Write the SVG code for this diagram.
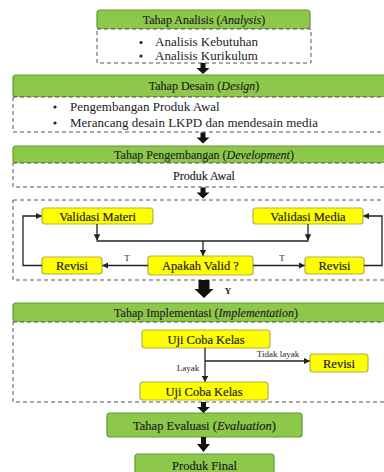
<svg xmlns="http://www.w3.org/2000/svg" width="384" height="472" viewBox="0 0 384 472">
<defs>
<style>
.g{fill:#8dc84a;stroke:#5e9a30;stroke-width:1.2}
.y{fill:#ffff00;stroke:#b4b048;stroke-width:1.2}
.d{fill:#fff;stroke:#555;stroke-width:1;stroke-dasharray:4 3}
.t{font-family:"Liberation Serif","Times New Roman",serif;font-size:12px;fill:#222;text-anchor:middle;stroke:#222;stroke-width:0.15}
.ty{font-family:"Liberation Serif","Times New Roman",serif;font-size:12.5px;fill:#222;text-anchor:middle;stroke:#222;stroke-width:0.2}
.tl{font-family:"Liberation Serif","Times New Roman",serif;font-size:13px;fill:#222}
.s{font-family:"Liberation Serif","Times New Roman",serif;font-size:9px;fill:#222;text-anchor:middle}
.c{fill:none;stroke:#222;stroke-width:1.3}
.ba{fill:#111}
</style>
<marker id="ah" viewBox="0 0 10 10" refX="9" refY="5" markerWidth="5" markerHeight="5" orient="auto">
<path d="M0,0 L10,5 L0,10 z" fill="#222"/>
</marker>
</defs>
<rect width="384" height="472" fill="#fff"/>

<g id="analisis">
<rect class="g" x="97" y="10" width="213" height="19" rx="3"/>
<text class="t" x="204" y="23.5">Tahap Analisis (<tspan font-style="italic">Analysis</tspan>)</text>
</g>
<g id="analisis-detail">
<rect class="d" x="97" y="29" width="214" height="34"/>
<circle cx="141" cy="42.5" r="1.6" fill="#222"/>
<circle cx="141" cy="56" r="1.6" fill="#222"/>
<text class="tl" x="155" y="46" font-size="12px">Analisis Kebutuhan</text>
<text class="tl" x="155" y="59.5" font-size="12px">Analisis Kurikulum</text>
</g>

<g id="desain">
<rect class="g" x="13" y="75" width="380" height="22" rx="3"/>
<text class="t" x="204" y="90">Tahap Desain (<tspan font-style="italic">Design</tspan>)</text>
</g>
<g id="desain-detail">
<rect class="d" x="13" y="97" width="380" height="35"/>
<circle cx="55" cy="107" r="1.6" fill="#222"/>
<circle cx="55" cy="123" r="1.6" fill="#222"/>
<text class="tl" x="70" y="111">Pengembangan Produk Awal</text>
<text class="tl" x="70" y="127">Merancang desain LKPD dan mendesain media</text>
</g>

<g id="pengembangan">
<rect class="g" x="13" y="146" width="380" height="17" rx="3"/>
<text class="t" x="204" y="158.5">Tahap Pengembangan (<tspan font-style="italic">Development</tspan>)</text>
</g>
<g id="produk-awal">
<rect class="d" x="13" y="163" width="380" height="24"/>
<text class="t" x="204" y="180">Produk Awal</text>
</g>

<g id="validasi-frame">
<rect class="d" x="13" y="200" width="380" height="80"/>
</g>
<g id="validasi-materi">
<rect class="y" x="42" y="208" width="111" height="16" rx="3"/>
<text class="ty" x="97.5" y="220.5">Validasi Materi</text>
</g>
<g id="validasi-media">
<rect class="y" x="253" y="208" width="110" height="16" rx="3"/>
<text class="ty" x="308" y="220.5">Validasi Media</text>
</g>
<g id="apakah-valid">
<rect class="y" x="148" y="256" width="105" height="19" rx="3"/>
<text class="ty" x="200.5" y="270">Apakah Valid ?</text>
</g>
<g id="revisi-kiri">
<rect class="y" x="42" y="257" width="60" height="17" rx="3"/>
<text class="ty" x="72" y="270">Revisi</text>
</g>
<g id="revisi-kanan">
<rect class="y" x="305" y="257" width="59" height="17" rx="3"/>
<text class="ty" x="334.5" y="270">Revisi</text>
</g>

<g id="implementasi">
<rect class="g" x="13" y="303" width="380" height="19" rx="3"/>
<text class="t" x="206" y="316.5">Tahap Implementasi (<tspan font-style="italic">Implementation</tspan>)</text>
</g>
<g id="implementasi-frame">
<rect class="d" x="13" y="322" width="380" height="80"/>
</g>
<g id="uji-coba-1">
<rect class="y" x="142" y="330" width="128" height="18" rx="3"/>
<text class="ty" x="206" y="343.5">Uji Coba Kelas</text>
</g>
<g id="revisi-uji">
<rect class="y" x="310" y="354" width="58" height="18" rx="3"/>
<text class="ty" x="339" y="367.5">Revisi</text>
</g>
<g id="uji-coba-2">
<rect class="y" x="140" y="382" width="128" height="18" rx="3"/>
<text class="ty" x="204" y="395.5">Uji Coba Kelas</text>
</g>

<g id="evaluasi">
<rect class="g" x="107" y="413" width="195" height="24" rx="3"/>
<text class="ty" x="204.5" y="429.5">Tahap Evaluasi (<tspan font-style="italic">Evaluation</tspan>)</text>
</g>
<g id="produk-final">
<rect class="g" x="135" y="454" width="139" height="24" rx="3"/>
<text class="ty" x="204.5" y="470">Produk Final</text>
</g>

<g id="connectors">
<path class="ba" d="M200.5,63 h5 v5 h4 l-6.5,6 l-6.5,-6 h4 z"/>
<path class="ba" d="M200.5,132.5 h5 v5 h4 l-6.5,6 l-6.5,-6 h4 z"/>
<path class="ba" d="M200.5,187.5 h5 v5 h4 l-6.5,6 l-6.5,-6 h4 z"/>
<path class="ba" d="M198.5,280 h11 v9 h4 l-9.5,9 l-9.5,-9 h4 z"/>
<path class="ba" d="M201,402 h5 v5 h4 l-6.5,6 l-6.5,-6 h4 z"/>
<path class="ba" d="M201,437 h5 v7 h4 l-6.5,8 l-6.5,-8 h4 z"/>
<text class="s" x="228" y="294" font-weight="bold" font-size="10">Y</text>
<line class="c" x1="97" y1="224" x2="97" y2="240" marker-end="url(#ah)"/>
<line class="c" x1="308" y1="224" x2="308" y2="240" marker-end="url(#ah)"/>
<line class="c" x1="96.4" y1="241" x2="308.6" y2="241"/>
<line class="c" x1="203" y1="241" x2="203" y2="255.5" marker-end="url(#ah)"/>
<line class="c" x1="148" y1="265.5" x2="102.5" y2="265.5" marker-end="url(#ah)"/>
<line class="c" x1="253" y1="265.5" x2="304.5" y2="265.5" marker-end="url(#ah)"/>
<text class="s" x="127" y="261">T</text>
<text class="s" x="282" y="261">T</text>
<polyline class="c" points="42,265.5 23,265.5 23,216 41.5,216" marker-end="url(#ah)"/>
<polyline class="c" points="364,265.5 382,265.5 382,216 363.5,216" marker-end="url(#ah)"/>
<line class="c" x1="205" y1="348" x2="205" y2="381.5" marker-end="url(#ah)"/>
<line class="c" x1="205" y1="361" x2="309.5" y2="361" marker-end="url(#ah)"/>
<text class="s" x="278" y="357">Tidak layak</text>
<text class="s" x="188" y="371">Layak</text>
</g>
</svg>
